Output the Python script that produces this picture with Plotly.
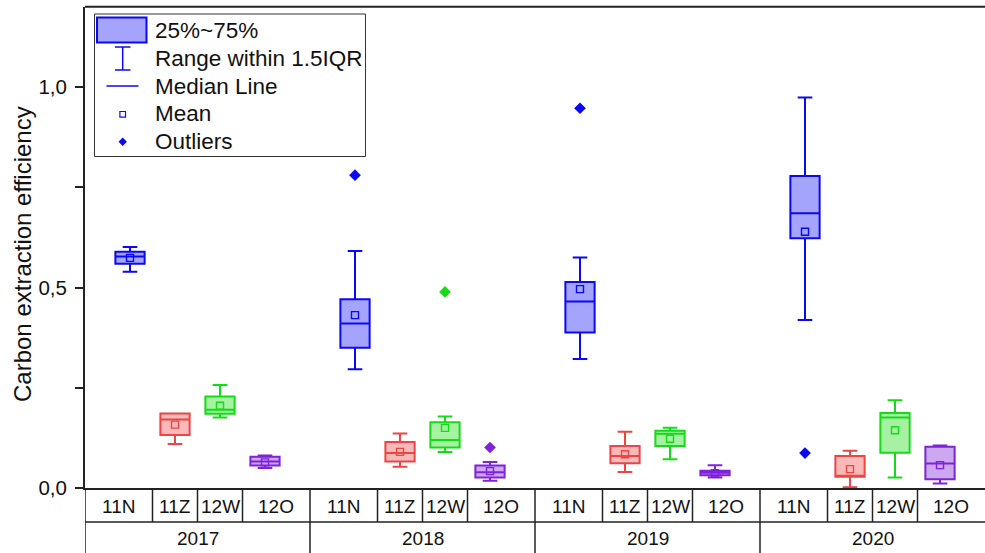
import plotly.graph_objects as go

W, H = 985, 553

years = ["2017", "2018", "2019", "2020"]
sites = ["11N", "11Z", "12W", "12O"]

# Box statistics: one row per site (11N, 11Z, 12W, 12O), one column per year
q3 = [
    [0.589, 0.471, 0.514, 0.778],
    [0.186, 0.115, 0.105, 0.080],
    [0.228, 0.164, 0.143, 0.187],
    [0.078, 0.056, 0.043, 0.103],
]
median = [
    [0.577, 0.410, 0.465, 0.685],
    [0.171, 0.087, 0.080, 0.030],
    [0.195, 0.120, 0.135, 0.176],
    [0.066, 0.039, 0.038, 0.061],
]
q1 = [
    [0.559, 0.350, 0.388, 0.623],
    [0.132, 0.066, 0.062, 0.028],
    [0.185, 0.101, 0.105, 0.088],
    [0.056, 0.026, 0.032, 0.022],
]
upper = [
    [0.601, 0.591, 0.575, 0.974],
    [0.186, 0.136, 0.140, 0.093],
    [0.257, 0.178, 0.150, 0.219],
    [0.081, 0.065, 0.057, 0.106],
]
lower = [
    [0.539, 0.296, 0.322, 0.419],
    [0.110, 0.053, 0.040, 0.002],
    [0.176, 0.090, 0.072, 0.026],
    [0.050, 0.018, 0.026, 0.011],
]
mean = [
    [0.574, 0.431, 0.496, 0.639],
    [0.158, 0.090, 0.084, 0.047],
    [0.205, 0.150, 0.123, 0.144],
    [0.064, 0.042, 0.037, 0.057],
]

# Outliers beyond 1.5 IQR
outlier_year = [1, 1, 1, 2, 3]   # index into years
outlier_site = [0, 2, 3, 0, 0]   # index into sites
outlier_value = [0.780, 0.489, 0.101, 0.947, 0.087]

y_tick_vals = [0.0, 0.5, 1.0]
y_tick_text = ["0,0", "0,5", "1,0"]
y_minor_vals = [0.25, 0.75]

legend_labels = ["25%~75%", "Range within 1.5IQR", "Median Line", "Mean", "Outliers"]

line_colors = ["#0A0AF2", "#EE4444", "#14DC14", "#7E22DC"]
fill_colors = ["#A4A4FC", "#F9B9B9", "#A7F2A2", "#CCA8F0"]

FONT = "Liberation Sans, Arial, sans-serif"
INK = "#111111"

# each year group spans 5 x-units; sites sit at 1..4 inside a group
GROUP = 5
def xpos(g, k):
    return GROUP * g + k + 1

fig = go.Figure()

for k, site in enumerate(sites):
    xs = [xpos(g, k) for g in range(len(years))]
    fig.add_trace(go.Box(
        x=xs, q1=q1[k], median=median[k], q3=q3[k],
        lowerfence=lower[k], upperfence=upper[k],
        width=0.65, whiskerwidth=0.5,
        fillcolor=fill_colors[k],
        line=dict(color=line_colors[k], width=2),
        boxpoints=False, showlegend=False, name=site,
        hoverinfo="skip",
    ))
    fig.add_trace(go.Scatter(
        x=xs, y=mean[k], mode="markers", showlegend=False,
        marker=dict(symbol="square-open", size=7,
                    color=line_colors[k], line=dict(width=1.4, color=line_colors[k])),
        hoverinfo="skip",
    ))

for g, k, v in zip(outlier_year, outlier_site, outlier_value):
    fig.add_trace(go.Scatter(
        x=[xpos(g, k)], y=[v], mode="markers", showlegend=False,
        marker=dict(symbol="diamond", size=9, color=line_colors[k]),
        hoverinfo="skip",
    ))

# pixel helpers for paper-referenced decorations
def fx(p):
    return p / W

def fy(p):
    return 1 - p / H

plot_left, plot_bottom, plot_top = 85, 488, 6.8
row_line = 522

shapes = []
annotations = []

# top frame line
shapes.append(dict(type="line", xref="paper", yref="paper",
                   x0=fx(plot_left), x1=1, y0=fy(plot_top), y1=fy(plot_top),
                   line=dict(color="#222", width=2)))

# category table below the axis
table_line = dict(color="#222", width=1.5)
shapes.append(dict(type="line", xref="paper", yref="paper",
                   x0=fx(plot_left), x1=1, y0=fy(row_line), y1=fy(row_line),
                   line=table_line))
for g in range(len(years)):
    shapes.append(dict(type="line", xref="x", yref="paper",
                       x0=GROUP * g, x1=GROUP * g, y0=0, y1=fy(plot_bottom),
                       line=table_line))
    for b in (1.5, 2.5, 3.5):
        shapes.append(dict(type="line", xref="x", yref="paper",
                           x0=GROUP * g + b, x1=GROUP * g + b,
                           y0=fy(row_line), y1=fy(plot_bottom), line=table_line))
    cell_centers = [0.75, 2.0, 3.0, 4.25]
    for k, site in enumerate(sites):
        annotations.append(dict(x=GROUP * g + cell_centers[k], y=fy(506),
                                xref="x", yref="paper", text=site, showarrow=False,
                                font=dict(family=FONT, size=19, color=INK),
                                xanchor="center", yanchor="middle"))
    annotations.append(dict(x=GROUP * g + GROUP / 2, y=fy(538),
                            xref="x", yref="paper", text=years[g], showarrow=False,
                            font=dict(family=FONT, size=19, color=INK),
                            xanchor="center", yanchor="middle"))

# y-axis title
annotations.append(dict(x=fx(22), y=fy(254), xref="paper", yref="paper",
                        text="Carbon extraction efficiency", textangle=-90,
                        showarrow=False, font=dict(family=FONT, size=24, color=INK),
                        xanchor="center", yanchor="middle"))

# legend
blue_line, blue_fill = line_colors[0], fill_colors[0]
shapes.append(dict(type="rect", xref="paper", yref="paper",
                   x0=fx(94.5), x1=fx(365.5), y0=fy(14), y1=fy(156.5),
                   line=dict(color="#333", width=1), fillcolor="white"))
shapes.append(dict(type="rect", xref="paper", yref="paper",
                   x0=fx(97), x1=fx(146.5), y0=fy(17.5), y1=fy(42.5),
                   line=dict(color=blue_line, width=2), fillcolor=blue_fill))
cx = 122.7
for seg in [((cx, 47), (cx, 70)), ((115, 47), (130.5, 47)), ((115, 70), (130.5, 70)),
            ((106.5, 86), (138.5, 86))]:
    (ax, ay), (bx, by) = seg
    shapes.append(dict(type="line", xref="paper", yref="paper",
                       x0=fx(ax), x1=fx(bx), y0=fy(ay), y1=fy(by),
                       line=dict(color=blue_line, width=1.5)))
shapes.append(dict(type="rect", xref="paper", yref="paper",
                   x0=fx(cx - 2.8), x1=fx(cx + 2.8), y0=fy(111.5), y1=fy(117.1),
                   line=dict(color=blue_line, width=1.2)))
d = 4.2
dy = 141.7
shapes.append(dict(type="path", xref="paper", yref="paper",
                   path=(f"M {fx(cx)} {fy(dy - d)} L {fx(cx + d)} {fy(dy)} "
                         f"L {fx(cx)} {fy(dy + d)} L {fx(cx - d)} {fy(dy)} Z"),
                   fillcolor=blue_line, line=dict(width=0)))
for i, lab in enumerate(legend_labels):
    annotations.append(dict(x=fx(153), y=fy(30.7 + i * 27.75), xref="paper", yref="paper",
                            text=lab, showarrow=False,
                            font=dict(family=FONT, size=22.5, color=INK),
                            xanchor="left", yanchor="middle"))

fig.update_layout(
    width=W, height=H, autosize=False,
    margin=dict(l=0, r=0, t=0, b=0, autoexpand=False),
    paper_bgcolor="white", plot_bgcolor="white",
    boxmode="overlay",
    showlegend=False,
    font=dict(family=FONT, color=INK),
    shapes=shapes, annotations=annotations,
    xaxis=dict(domain=[fx(plot_left), 1], range=[0, GROUP * len(years)],
               showline=True, linewidth=2, linecolor="#222",
               showticklabels=False, ticks="", showgrid=False, zeroline=False,
               fixedrange=True),
    yaxis=dict(domain=[fy(plot_bottom), fy(plot_top)], range=[0, 1.2],
               showline=True, linewidth=2, linecolor="#222",
               tickmode="array", tickvals=y_tick_vals, ticktext=y_tick_text,
               ticks="outside", ticklen=8, tickwidth=1.5, tickcolor="#222",
               ticklabelstandoff=4,
               minor=dict(tickmode="array", tickvals=y_minor_vals, ticks="outside",
                          ticklen=8, tickwidth=1.5, tickcolor="#222"),
               tickfont=dict(family=FONT, size=20.5, color=INK),
               showgrid=False, zeroline=False, fixedrange=True),
)

fig.write_html("out.html")
